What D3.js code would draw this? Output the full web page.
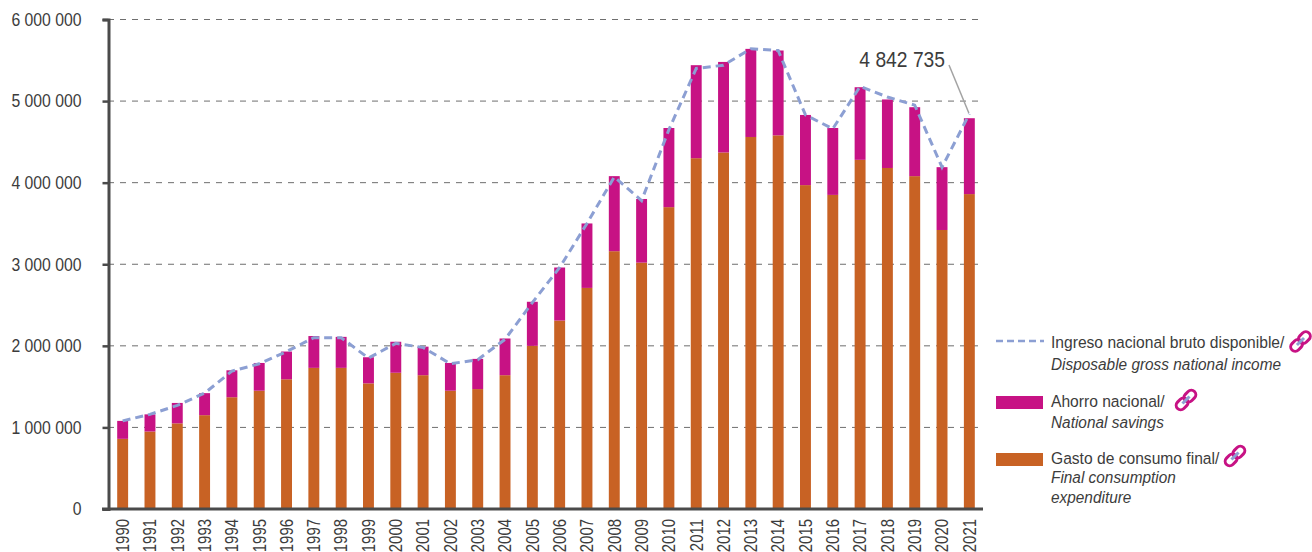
<!DOCTYPE html>
<html>
<head>
<meta charset="utf-8">
<script src="https://cdn.jsdelivr.net/npm/d3@7"></script>
<style>
    html, body { margin: 0; padding: 0; background: #fff; overflow: hidden; }
    svg { display: block; }
    text { font-family: "Liberation Sans", sans-serif; fill: #3c3c3c; }
</style>
</head>
<body>
<div id="chart"></div>
<script>
const years = ["1990","1991","1992","1993","1994","1995","1996","1997","1998","1999","2000","2001","2002","2003","2004","2005",
    "2006","2007","2008","2009","2010","2011","2012","2013","2014","2015","2016","2017","2018","2019","2020","2021"];

// Gasto de consumo final
const consumo = [860000,950000,1050000,1150000,1370000,1450000,1590000,1730000,1730000,1540000,1670000,1640000,1450000,1470000,1640000,2000000,
    2310000,2710000,3160000,3020000,3700000,4300000,4370000,4560000,4580000,3970000,3850000,4280000,4180000,4080000,3420000,3860000];

// Ahorro nacional
const ahorro = [220000,210000,250000,270000,330000,340000,340000,390000,380000,320000,380000,350000,340000,370000,450000,540000,
    650000,790000,920000,780000,970000,1140000,1110000,1080000,1040000,860000,820000,890000,840000,845000,770000,930000];

// Ingreso nacional bruto disponible
const ingreso = [1080000,1160000,1270000,1420000,1690000,1780000,1930000,2100000,2100000,1850000,2030000,1980000,1780000,1830000,2080000,2530000,
    2960000,3500000,4070000,3780000,4650000,5400000,5440000,5640000,5620000,4830000,4660000,5180000,5050000,4950000,4190000,4842735];

const yTicks = [0,1000000,2000000,3000000,4000000,5000000,6000000];
const legendEs = ["Ingreso nacional bruto disponible/", "Ahorro nacional/", "Gasto de consumo final/"];
const legendEn = [["Disposable gross national income"], ["National savings"], ["Final consumption", "expenditure"]];

const width = 1312, height = 552;
const colorConsumo = "#c86224", colorAhorro = "#c71284", colorIngreso = "#8c9fd3";

const svg = d3.select("#chart").append("svg")
    .attr("width", width)
    .attr("height", height);

const x = d3.scaleBand().domain(years).range([109, 983]).paddingInner(0.6).paddingOuter(0.3);
const y = d3.scaleLinear().domain([0, 6000000]).range([509, 19.5]);
const fmt = d => d3.format(",")(d).replace(/,/g, " ");

// Comprime el texto: no hay fuente condensada instalada
function narrow(selection, factor) {
    selection.each(function () {
        const len = this.getComputedTextLength();
        d3.select(this)
            .attr("textLength", len * factor)
            .attr("lengthAdjust", "spacingAndGlyphs");
    });
}

// Rejilla
svg.append("g").selectAll("line")
    .data(yTicks.slice(1))
    .join("line")
    .attr("x1", 108).attr("x2", 980)
    .attr("y1", d => y(d)).attr("y2", d => y(d))
    .attr("stroke", "#6e6e6e").attr("stroke-width", 1)
    .attr("stroke-dasharray", "6,6");

// Barras apiladas
svg.append("g").selectAll("rect")
    .data(consumo)
    .join("rect")
    .attr("x", (d, i) => x(years[i]))
    .attr("width", x.bandwidth())
    .attr("y", d => y(d))
    .attr("height", d => y(0) - y(d))
    .attr("fill", colorConsumo);

svg.append("g").selectAll("rect")
    .data(ahorro)
    .join("rect")
    .attr("x", (d, i) => x(years[i]))
    .attr("width", x.bandwidth())
    .attr("y", (d, i) => y(consumo[i] + d))
    .attr("height", (d, i) => y(consumo[i]) - y(consumo[i] + d))
    .attr("fill", colorAhorro);

// Linea de ingreso
const line = d3.line()
    .x((d, i) => x(years[i]) + x.bandwidth() / 2)
    .y(d => y(d));

svg.append("path")
    .datum(ingreso)
    .attr("d", line)
    .attr("fill", "none")
    .attr("stroke", colorIngreso)
    .attr("stroke-width", 3)
    .attr("stroke-dasharray", "8,5");

// Ejes
const yAxis = svg.append("g")
    .attr("transform", "translate(108.5,0)")
    .call(d3.axisLeft(y).tickValues(yTicks).tickFormat(fmt).tickSize(6).tickPadding(21));
yAxis.select(".domain").attr("stroke", "#4a4a4a").attr("stroke-width", 3);
yAxis.selectAll(".tick line").attr("stroke", "#4a4a4a").attr("stroke-width", 2.5);
yAxis.selectAll(".tick text")
    .attr("font-size", 18)
    .attr("fill", "#3c3c3c")
    .style("font-family", "'Liberation Sans', sans-serif")
    .call(narrow, 0.875);

const xAxis = svg.append("g")
    .attr("transform", "translate(0,509)")
    .call(d3.axisBottom(x).tickSize(0).tickPadding(0));
xAxis.select(".domain").attr("stroke", "#4a4a4a").attr("stroke-width", 3).attr("d", "M102,0H983");
xAxis.selectAll(".tick text")
    .attr("font-size", 18)
    .attr("fill", "#3c3c3c")
    .style("font-family", "'Liberation Sans', sans-serif")
    .attr("transform", "rotate(-90)")
    .attr("text-anchor", "end")
    .attr("x", -10)
    .attr("y", 0)
    .attr("dy", "0.35em")
    .call(narrow, 0.83);

// Anotacion del ultimo valor
svg.append("text")
    .attr("x", 945).attr("y", 67)
    .attr("text-anchor", "end")
    .attr("font-size", 22)
    .text(fmt(ingreso[ingreso.length - 1]))
    .call(narrow, 0.875);

const lastX = x(years[years.length - 1]) + x.bandwidth() / 2;
svg.append("line")
    .attr("x1", 949).attr("y1", 65)
    .attr("x2", lastX - 0.5).attr("y2", y(ingreso[ingreso.length - 1]) - 1)
    .attr("stroke", "#a3a3a3").attr("stroke-width", 1.5);

// Icono de enlace
function linkIcon(cx, cy) {
    const g = svg.append("g").attr("transform", `translate(${cx},${cy}) rotate(-45)`);
    [-5.5, 5.5].forEach(dx => {
        g.append("rect")
            .attr("x", dx - 6.5).attr("y", -4.5)
            .attr("width", 13).attr("height", 9)
            .attr("rx", 4.5)
            .attr("fill", "none")
            .attr("stroke", colorAhorro).attr("stroke-width", 3);
    });
    g.append("line")
        .attr("x1", -5).attr("x2", 5)
        .attr("stroke", colorIngreso).attr("stroke-width", 3);
}

// Leyenda
const esBaseline = [348, 407, 464];
const enBaseline = [[370], [428], [483, 503]];
const iconPos = [[1300.5, 341.5], [1186, 400], [1235, 456]];

legendEs.forEach((t, i) => {
    svg.append("text")
        .attr("x", 1051).attr("y", esBaseline[i])
        .attr("font-size", 17.2)
        .text(t)
        .call(narrow, 0.908);
    legendEn[i].forEach((s, j) => {
        svg.append("text")
            .attr("x", 1051).attr("y", enBaseline[i][j])
            .attr("font-size", 17.2)
            .attr("font-style", "italic")
            .text(s)
            .call(narrow, 0.895);
    });
    linkIcon(iconPos[i][0], iconPos[i][1]);
});

svg.append("line")
    .attr("x1", 996).attr("x2", 1044)
    .attr("y1", 341).attr("y2", 341)
    .attr("stroke", colorIngreso).attr("stroke-width", 2.4)
    .attr("stroke-dasharray", "7,4");

svg.append("rect").attr("x", 996).attr("y", 396).attr("width", 47).attr("height", 13).attr("fill", colorAhorro);
svg.append("rect").attr("x", 996).attr("y", 453).attr("width", 47).attr("height", 13).attr("fill", colorConsumo);
</script>
</body>
</html>
